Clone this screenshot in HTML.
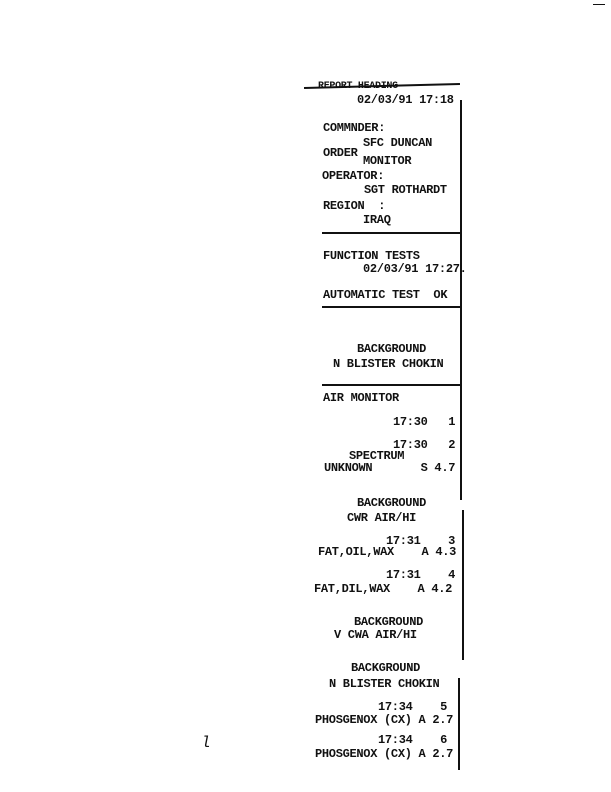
<!DOCTYPE html>
<html><head><meta charset="utf-8"><style>
body{margin:0;width:611px;height:792px;background:#fff;position:relative;overflow:hidden}
.t{position:absolute;font-family:"Liberation Mono",monospace;font-weight:bold;font-size:12px;line-height:14px;color:#111;white-space:pre;letter-spacing:-0.3px}
.h{position:absolute;background:#111;height:2px}
.v{position:absolute;background:#111;width:2px}
</style></head><body>
<div class="h" style="left:304px;top:85px;width:156px;transform:rotate(-1.5deg)"></div>
<div class="t" style="left:318px;top:80px;font-size:10px;">REPORT HEADING</div>
<div class="t" style="left:357px;top:93px">02/03/91 17:18</div>
<div class="t" style="left:323px;top:121px">COMMNDER:</div>
<div class="t" style="left:363px;top:136px">SFC DUNCAN</div>
<div class="t" style="left:323px;top:146px">ORDER</div>
<div class="t" style="left:363px;top:154px">MONITOR</div>
<div class="t" style="left:322px;top:169px">OPERATOR:</div>
<div class="t" style="left:364px;top:183px">SGT ROTHARDT</div>
<div class="t" style="left:323px;top:199px">REGION  :</div>
<div class="t" style="left:363px;top:213px">IRAQ</div>
<div class="h" style="left:322px;top:232px;width:138px"></div>
<div class="t" style="left:323px;top:249px">FUNCTION TESTS</div>
<div class="t" style="left:363px;top:262px">02/03/91 17:27.</div>
<div class="t" style="left:323px;top:288px">AUTOMATIC TEST  OK</div>
<div class="h" style="left:322px;top:306px;width:140px"></div>
<div class="t" style="left:357px;top:342px">BACKGROUND</div>
<div class="t" style="left:333px;top:357px">N BLISTER CHOKIN</div>
<div class="h" style="left:322px;top:384px;width:138px"></div>
<div class="t" style="left:323px;top:391px">AIR MONITOR</div>
<div class="t" style="left:393px;top:415px">17:30   1</div>
<div class="t" style="left:393px;top:438px">17:30   2</div>
<div class="t" style="left:349px;top:449px">SPECTRUM</div>
<div class="t" style="left:324px;top:461px">UNKNOWN       S 4.7</div>
<div class="t" style="left:357px;top:496px">BACKGROUND</div>
<div class="t" style="left:347px;top:511px">CWR AIR/HI</div>
<div class="t" style="left:386px;top:534px">17:31    3</div>
<div class="t" style="left:318px;top:545px">FAT,OIL,WAX    A 4.3</div>
<div class="t" style="left:386px;top:568px">17:31    4</div>
<div class="t" style="left:314px;top:582px">FAT,DIL,WAX    A 4.2</div>
<div class="t" style="left:354px;top:615px">BACKGROUND</div>
<div class="t" style="left:334px;top:628px">V CWA AIR/HI</div>
<div class="t" style="left:351px;top:661px">BACKGROUND</div>
<div class="t" style="left:329px;top:677px">N BLISTER CHOKIN</div>
<div class="t" style="left:378px;top:700px">17:34    5</div>
<div class="t" style="left:315px;top:713px">PHOSGENOX (CX) A 2.7</div>
<div class="t" style="left:378px;top:733px">17:34    6</div>
<div class="t" style="left:315px;top:747px">PHOSGENOX (CX) A 2.7</div>
<div class="v" style="left:460px;top:100px;height:400px"></div>
<div class="v" style="left:462px;top:510px;height:150px"></div>
<div class="v" style="left:458px;top:678px;height:92px"></div>
<div class="t" style="left:201px;top:736px;font-style:italic;font-weight:normal;font-size:16px">l</div>
<div class="h" style="left:593px;top:4px;width:12px;height:1px"></div>
</body></html>
